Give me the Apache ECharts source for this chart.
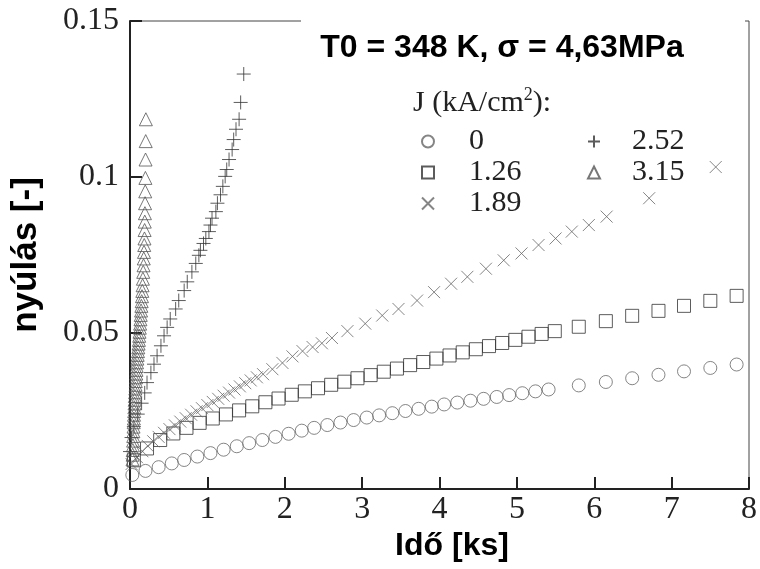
<!DOCTYPE html>
<html><head><meta charset="utf-8">
<script src="https://cdn.jsdelivr.net/npm/echarts/dist/echarts.min.js"></script>
<style>html,body{margin:0;padding:0;background:#fff}#c{width:760px;height:569px}</style>
</head><body><div id="c"></div>
<script>
// ---- data (time in ks, strain) ----
const legendCol1 = ['0', '1.26', '1.89'];
const legendCol2 = ['2.52', '3.15'];

const j0T = [0.03,0.20,0.37,0.54,0.70,0.87,1.04,1.21,1.38,1.54,1.71,1.88,2.05,2.22,2.38,2.55,2.72,2.89,3.06,3.22,3.39,3.56,3.73,3.90,4.06,4.23,4.40,4.57,4.74,4.90,5.07,5.24,5.41,5.80,6.15,6.49,6.83,7.16,7.50,7.84];
const j0Y = [0.0045,0.0058,0.0070,0.0082,0.0093,0.0104,0.0115,0.0126,0.0137,0.0147,0.0157,0.0167,0.0177,0.0187,0.0196,0.0205,0.0213,0.0221,0.0229,0.0236,0.0243,0.0250,0.0257,0.0264,0.0271,0.0277,0.0283,0.0289,0.0295,0.0301,0.0307,0.0313,0.0319,0.0332,0.0343,0.0355,0.0366,0.0377,0.0388,0.0399];

const j126T = [0.05,0.22,0.39,0.56,0.73,0.90,1.07,1.24,1.41,1.58,1.75,1.92,2.09,2.26,2.43,2.60,2.77,2.94,3.11,3.28,3.45,3.62,3.79,3.96,4.13,4.30,4.47,4.64,4.81,4.98,5.15,5.32,5.49,5.80,6.15,6.49,6.83,7.16,7.50,7.84];
const j126Y = [0.0092,0.0130,0.0157,0.0178,0.0196,0.0212,0.0226,0.0239,0.0252,0.0265,0.0278,0.0290,0.0302,0.0313,0.0323,0.0334,0.0344,0.0355,0.0365,0.0376,0.0386,0.0397,0.0407,0.0418,0.0428,0.0438,0.0448,0.0458,0.0468,0.0478,0.0488,0.0497,0.0506,0.0520,0.0538,0.0555,0.0571,0.0587,0.0603,0.0619];

const j189T = [0.02,0.09,0.16,0.23,0.30,0.37,0.44,0.51,0.58,0.65,0.72,0.79,0.86,0.93,1.00,1.07,1.14,1.21,1.28,1.35,1.42,1.49,1.56,1.64,1.72,1.84,1.97,2.10,2.23,2.36,2.48,2.61,2.81,3.04,3.26,3.47,3.71,3.93,4.15,4.36,4.60,4.83,5.06,5.28,5.50,5.71,5.93,6.16,6.71,7.57];
const j189Y = [0.0080,0.0102,0.0121,0.0138,0.0153,0.0167,0.0180,0.0192,0.0204,0.0216,0.0227,0.0238,0.0249,0.0259,0.0269,0.0279,0.0289,0.0299,0.0309,0.0319,0.0329,0.0339,0.0348,0.0358,0.0368,0.0384,0.0404,0.0425,0.0442,0.0455,0.0467,0.0484,0.0506,0.0530,0.0556,0.0577,0.0604,0.0631,0.0658,0.0680,0.0706,0.0733,0.0755,0.0782,0.0803,0.0825,0.0846,0.0873,0.0932,0.1032];

const j252T = [0.00,0.02,0.05,0.10,0.15,0.19,0.22,0.27,0.31,0.35,0.40,0.44,0.48,0.52,0.59,0.63,0.70,0.74,0.80,0.85,0.89,0.91,0.95,0.98,1.02,1.04,1.06,1.11,1.13,1.17,1.20,1.23,1.25,1.28,1.32,1.34,1.37,1.41,1.43,1.47];
const j252Y = [0.0120,0.0165,0.0200,0.0240,0.0275,0.0308,0.0341,0.0373,0.0400,0.0427,0.0459,0.0491,0.0518,0.0545,0.0577,0.0604,0.0636,0.0664,0.0696,0.0723,0.0749,0.0765,0.0787,0.0803,0.0825,0.0846,0.0868,0.0889,0.0916,0.0943,0.0970,0.1002,0.1024,0.1056,0.1088,0.1120,0.1153,0.1185,0.1239,0.1330];

const j315T = [0.205,0.203,0.201,0.199,0.197,0.195,0.193,0.191,0.189,0.187,0.184,0.181,0.178,0.175,0.171,0.167,0.163,0.159,0.155,0.151,0.147,0.143,0.139,0.135,0.131,0.127,0.123,0.119,0.115,0.111,0.107,0.103,0.099,0.095,0.091,0.087,0.084,0.081,0.078,0.075,0.072,0.069,0.066,0.063,0.060,0.058,0.056,0.054,0.052,0.050,0.048,0.046,0.044,0.042,0.040,0.038,0.036,0.034,0.032];
const j315Y = [0.1185,0.1115,0.1056,0.0997,0.0954,0.0916,0.0884,0.0857,0.0830,0.0803,0.0782,0.0760,0.0739,0.0717,0.0696,0.0674,0.0653,0.0635,0.0618,0.0602,0.0587,0.0572,0.0558,0.0544,0.0530,0.0517,0.0504,0.0491,0.0478,0.0466,0.0454,0.0442,0.0430,0.0418,0.0406,0.0394,0.0382,0.0370,0.0358,0.0346,0.0334,0.0322,0.0310,0.0298,0.0286,0.0274,0.0262,0.0250,0.0238,0.0226,0.0214,0.0200,0.0185,0.0170,0.0155,0.0140,0.0125,0.0110,0.0095];

// ---- build ----
function pairs(t, y) { const n = Math.min(t.length, y.length); const out = []; for (let i = 0; i < n; i++) out.push([t[i], y[i]]); return out; }
const PLUS = 'path://M0,6L12,6M6,0L6,12';
const CROSS = 'path://M0,0L10,10M10,0L0,10';
const SERIF = '"Liberation Serif", "Times New Roman", serif';
const SANS = '"Liberation Sans", Arial, sans-serif';

function sc(name, data, symbol, size, col) {
  return { type: 'scatter', name: name, data: data, symbol: symbol, symbolSize: size,
    itemStyle: { color: 'rgba(0,0,0,0)', borderColor: col, borderWidth: 1 },
    emphasis: { disabled: true }, animation: false };
}

const chart = echarts.init(document.getElementById('c'), null, { renderer: 'canvas' });
const legendBase = {
  orient: 'vertical', itemWidth: 12, itemHeight: 12, itemGap: 0, selectedMode: false,
  textStyle: { fontFamily: SERIF, fontSize: 30, color: '#222', lineHeight: 31 }
};
chart.setOption({
  animation: false,
  backgroundColor: '#fff',
  grid: { left: 130, top: 21, width: 621, height: 468, show: true, borderColor: '#444', borderWidth: 1, backgroundColor: 'transparent' },
  xAxis: {
    type: 'value', min: 0, max: 8, interval: 1,
    axisLine: { show: true, onZero: false, lineStyle: { color: '#222', width: 2 } },
    axisTick: { show: true, inside: true, length: 12, lineStyle: { color: '#222', width: 2 } },
    axisLabel: { fontFamily: SERIF, fontSize: 32, color: '#222', margin: 5 },
    splitLine: { show: false }
  },
  yAxis: {
    type: 'value', min: 0, max: 0.15, interval: 0.05,
    name: 'nyúlás [-]', nameLocation: 'middle', nameGap: 86,
    nameTextStyle: { fontFamily: SANS, fontWeight: 'bold', fontSize: 35, color: '#000' },
    axisLine: { show: true, onZero: false, lineStyle: { color: '#222', width: 2 } },
    axisTick: { show: true, inside: true, length: 12, lineStyle: { color: '#222', width: 2 } },
    axisLabel: { fontFamily: SERIF, fontSize: 32, color: '#222', margin: 11 },
    splitLine: { show: false }
  },
  legend: [
    Object.assign({}, legendBase, { data: legendCol1, left: 416, top: 121, textStyle: Object.assign({}, legendBase.textStyle, { padding: [0, 0, 0, 30] }) }),
    Object.assign({}, legendBase, { data: legendCol2, left: 582, top: 121, textStyle: Object.assign({}, legendBase.textStyle, { padding: [0, 0, 0, 27] }) })
  ],
  graphic: [
    { type: 'rect', z: 100, shape: { x: 301, y: 14, width: 444, height: 14 }, style: { fill: '#fff' } },
    { type: 'text', z: 101, x: 502, y: 48, style: { text: 'T0 = 348 K, σ = 4,63MPa', font: 'bold 32px ' + SANS, fill: '#000', align: 'center', verticalAlign: 'middle' } },
    { type: 'text', z: 101, x: 452, y: 546, style: { text: 'Idő [ks]', font: 'bold 32px ' + SANS, fill: '#000', align: 'center', verticalAlign: 'middle' } },
    { type: 'text', z: 101, x: 413, y: 103, style: {
        text: '{a|J (kA/cm}{s|2}{a|):}', verticalAlign: 'middle', align: 'left',
        rich: { a: { fontFamily: SERIF, fontSize: 30, fill: '#222', color: '#222', lineHeight: 34 },
                s: { fontFamily: SERIF, fontSize: 18, fill: '#222', color: '#222', verticalAlign: 'top', lineHeight: 34 } } } }
  ],
  series: [
    sc('0', pairs(j0T, j0Y), 'circle', 13, '#666'),
    sc('1.26', pairs(j126T, j126Y), 'rect', 13, '#333'),
    sc('1.89', pairs(j189T, j189Y), CROSS, 12, '#666'),
    sc('2.52', pairs(j252T, j252Y), PLUS, 14, '#333'),
    sc('3.15', pairs(j315T, j315Y), 'triangle', 13, '#555')
  ]
});
</script></body></html>
